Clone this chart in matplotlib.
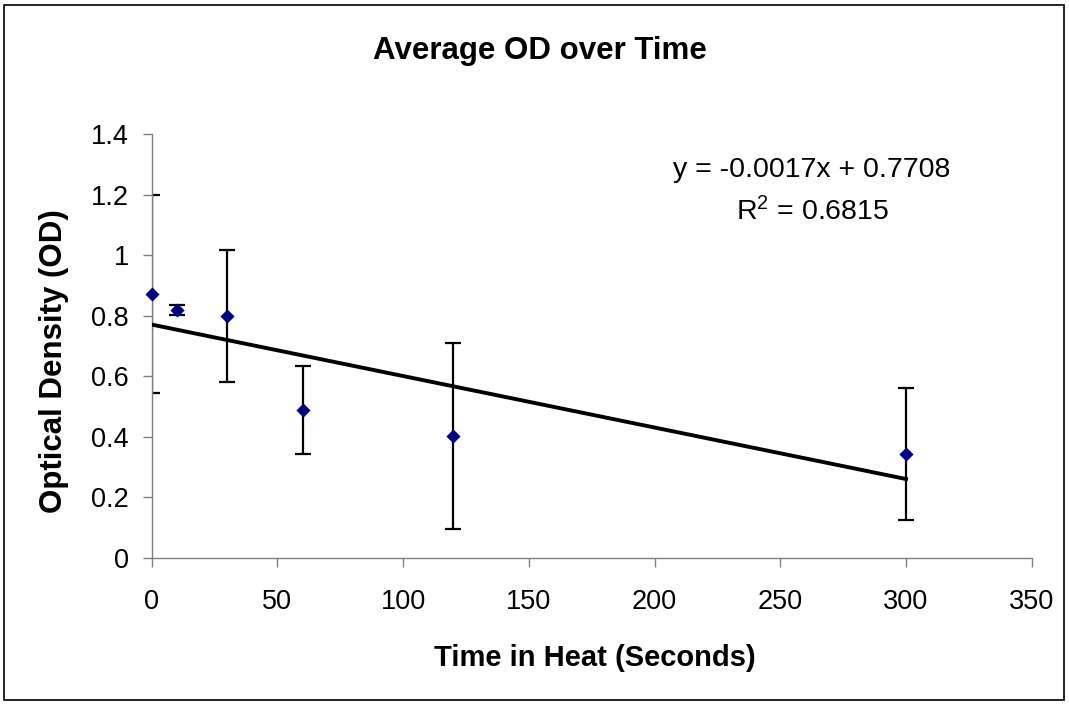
import numpy as np
import matplotlib.pyplot as plt

plt.rcParams['font.family'] = ['Liberation Sans', 'DejaVu Sans']

# Heat exposure time (s) and mean optical density with error bars
time_s = [0, 10, 30, 60, 120, 300]
od_mean = [0.871, 0.818, 0.799, 0.488, 0.403, 0.344]
od_err = [0.327, 0.016, 0.219, 0.145, 0.307, 0.217]

# Linear trendline as reported on the chart
slope = -0.0017
intercept = 0.7708
r_squared = 0.6815

W, H = 1069, 704
fig = plt.figure(figsize=(W / 100, H / 100), dpi=100)
ax = fig.add_axes([151.7 / W, 1 - 558 / H, 880 / W, 424 / H])

ax.errorbar(time_s, od_mean, yerr=od_err, fmt='none', ecolor='black',
            elinewidth=1.6, capsize=5.5, capthick=1.6, zorder=2)
trend_x = np.array([min(time_s), max(time_s)])
ax.plot(trend_x, slope * trend_x + intercept, color='black', lw=2.8, zorder=3)
ax.scatter(time_s, od_mean, marker='D', s=52, color='#000080',
           linewidths=0, zorder=4, clip_on=False)

ax.set_xlim(0, 350)
ax.set_ylim(0, 1.4)
ax.set_xticks(np.arange(0, 351, 50))
ax.set_yticks(np.arange(0, 1.41, 0.2))
ax.set_yticklabels(['0', '0.2', '0.4', '0.6', '0.8', '1', '1.2', '1.4'])
for side in ['top', 'right']:
    ax.spines[side].set_visible(False)
for side in ['left', 'bottom']:
    ax.spines[side].set_color('#808080')
    ax.spines[side].set_linewidth(1.0)
ax.tick_params(direction='out', length=6.5, width=1.0, color='#808080',
               labelsize=19.5)
ax.tick_params(axis='x', pad=16)
ax.tick_params(axis='y', pad=10)

fig.text(595 / W, 1 - 658 / H, 'Time in Heat (Seconds)', ha='center',
         va='center', fontsize=21, fontweight='bold')
fig.text(54 / W, 1 - 361 / H, 'Optical Density (OD)', ha='center',
         va='center', rotation=90, fontsize=22.5, fontweight='bold')
fig.text(540 / W, 1 - 51 / H, 'Average OD over Time', ha='center',
         va='center', fontsize=22.5, fontweight='bold')

fig.text(812 / W, 1 - 170 / H, 'y = %.4fx + %.4f' % (slope, intercept),
         ha='center', va='center', fontsize=20.5)
fig.text(813 / W, 1 - 212 / H, '$\\mathregular{R^2}$ = %.4f' % r_squared,
         ha='center', va='center', fontsize=20.5)

fig.patches.append(plt.Rectangle((4 / W, 4 / H), 1 - 9 / W, 1 - 9 / H,
                                 transform=fig.transFigure, fill=False,
                                 edgecolor='black', lw=1.2))

fig.savefig('out.png', dpi=100)
